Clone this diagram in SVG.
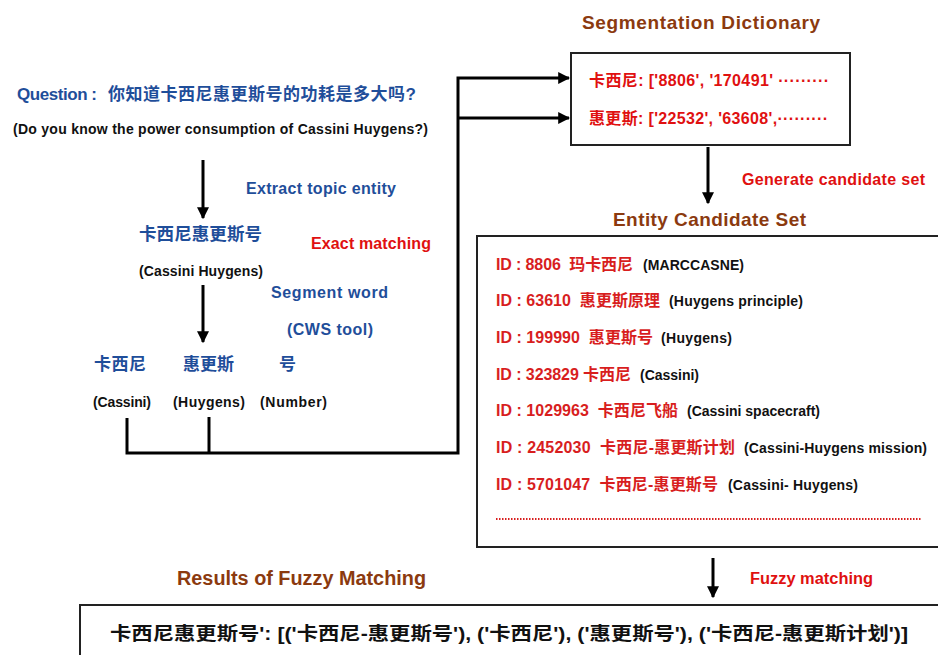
<svg xmlns="http://www.w3.org/2000/svg" width="938" height="655" viewBox="0 0 938 655">
<defs>
<marker id="ah" viewBox="0 0 10 10" refX="9" refY="5" markerWidth="4" markerHeight="4" orient="auto" markerUnits="strokeWidth">
<path d="M0,0 L10,5 L0,10 z" fill="#000"/>
</marker>
<style>
text{font-family:"Liberation Sans","Noto Sans CJK SC",sans-serif;font-weight:bold;white-space:pre}
.blue{fill:#1F4E9A;font-size:16px}
.red{fill:#E01010;font-size:16px}
.brown{fill:#8B3A0F;font-size:19px}
.blk{fill:#111;font-size:14px}
.ent{fill:#D81E1E;font-size:16px}
.box{fill:#fff;stroke:#222;stroke-width:2}
.conn{fill:none;stroke:#000;stroke-width:3}
</style>
</defs>
<rect width="938" height="655" fill="#fff"/>

<g id="question">
<text class="blue" x="17" y="100" style="font-size:17px" textLength="80">Question :</text>
<text class="blue" x="108" y="100" style="font-size:17px" textLength="308">你知道卡西尼惠更斯号的功耗是多大吗?</text>
<text class="blk" x="13" y="134" textLength="415">(Do you know the power consumption of Cassini Huygens?)</text>
</g>
<g id="topic-entity">
<text class="blue" x="139" y="240" style="font-size:17.5px" textLength="123">卡西尼惠更斯号</text>
<text class="blk" x="139" y="276" textLength="124">(Cassini Huygens)</text>
</g>
<g id="labels-left">
<text class="blue" x="246" y="194" textLength="150">Extract topic entity</text>
<text class="red" x="311" y="249" textLength="120">Exact matching</text>
<text class="blue" x="271" y="298" textLength="117">Segment word</text>
<text class="blue" x="287" y="335" textLength="86">(CWS tool)</text>
</g>
<g id="seg-cassini">
<text class="blue" x="94" y="370" style="font-size:17px" textLength="52">卡西尼</text>
<text class="blk" x="93" y="407" textLength="58">(Cassini)</text>
</g>
<g id="seg-huygens">
<text class="blue" x="183" y="370" style="font-size:17px" textLength="51">惠更斯</text>
<text class="blk" x="173" y="407" textLength="72">(Huygens)</text>
</g>
<g id="seg-number">
<text class="blue" x="279" y="370" style="font-size:17px">号</text>
<text class="blk" x="260" y="407" textLength="67">(Number)</text>
</g>

<g id="seg-dict">
<text class="brown" x="582" y="29" textLength="238">Segmentation Dictionary</text>
<rect class="box" x="571" y="53" width="279" height="92"/>
<text class="red" x="589" y="86" textLength="240">卡西尼: ['8806', '170491' ·········</text>
<text class="red" x="589" y="124" textLength="239">惠更斯: ['22532', '63608',·········</text>
</g>
<text class="red" x="742" y="185" textLength="183">Generate candidate set</text>

<g id="candidate-set">
<text class="brown" x="613" y="226" textLength="193">Entity Candidate Set</text>
<rect class="box" x="477" y="236" width="470" height="311"/>
<text class="ent" x="496" y="270" textLength="137">ID : 8806  玛卡西尼</text>
<text class="blk" x="643" y="270" textLength="101">(MARCCASNE)</text>
<text class="ent" x="496" y="306" textLength="164">ID : 63610  惠更斯原理</text>
<text class="blk" x="669" y="306" textLength="134">(Huygens principle)</text>
<text class="ent" x="496" y="343" textLength="157">ID : 199990  惠更斯号</text>
<text class="blk" x="661" y="343" textLength="71">(Huygens)</text>
<text class="ent" x="496" y="380" textLength="135">ID : 323829 卡西尼</text>
<text class="blk" x="640" y="380" textLength="59">(Cassini)</text>
<text class="ent" x="496" y="416" textLength="182">ID : 1029963  卡西尼飞船</text>
<text class="blk" x="687" y="416" textLength="133">(Cassini spacecraft)</text>
<text class="ent" x="496" y="453" textLength="239">ID : 2452030  卡西尼-惠更斯计划</text>
<text class="blk" x="744" y="453" textLength="183">(Cassini-Huygens mission)</text>
<text class="ent" x="496" y="490" textLength="222">ID : 5701047  卡西尼-惠更斯号</text>
<text class="blk" x="728" y="490" textLength="130">(Cassini- Huygens)</text>
<line x1="496" y1="519" x2="922" y2="519" stroke="#D81E1E" stroke-width="1.8" stroke-dasharray="1.5 1.5"/>
</g>

<text class="red" x="750" y="584" style="font-size:16px" textLength="123" lengthAdjust="spacingAndGlyphs">Fuzzy matching</text>

<g id="results">
<text class="brown" x="177" y="585" style="font-size:20px" textLength="249" lengthAdjust="spacingAndGlyphs">Results of Fuzzy Matching</text>
<rect class="box" x="80" y="605" width="870" height="60"/>
<text x="110" y="640" fill="#111" font-size="18" textLength="798" lengthAdjust="spacingAndGlyphs">卡西尼惠更斯号': [('卡西尼-惠更斯号'), ('卡西尼'), ('惠更斯号'), ('卡西尼-惠更斯计划')]</text>
</g>

<g id="connectors">
<line class="conn" x1="203" y1="160" x2="203" y2="218" marker-end="url(#ah)"/>
<line class="conn" x1="203" y1="285" x2="203" y2="342" marker-end="url(#ah)"/>
<polyline class="conn" points="127,418 127,453 458,453 458,78 569,78" marker-end="url(#ah)"/>
<line class="conn" x1="209" y1="417" x2="209" y2="453"/>
<line class="conn" x1="458" y1="118" x2="569" y2="118" marker-end="url(#ah)"/>
<line class="conn" x1="708" y1="147" x2="708" y2="203" marker-end="url(#ah)"/>
<line class="conn" x1="713" y1="558" x2="713" y2="597" marker-end="url(#ah)"/>
</g>
</svg>
